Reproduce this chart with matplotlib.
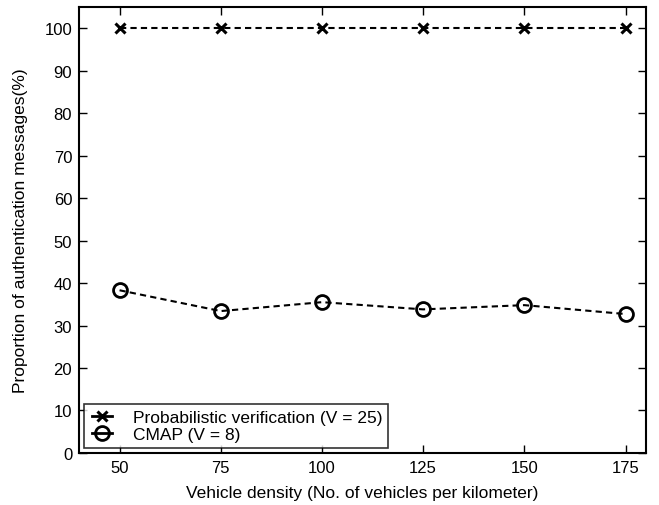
import matplotlib
matplotlib.use("Agg")
import matplotlib.pyplot as plt
from matplotlib.legend_handler import HandlerLine2D
from matplotlib.lines import Line2D
import numpy as np

plt.rcParams['font.family'] = ['Liberation Sans', 'DejaVu Sans']

density = [50, 75, 100, 125, 150, 175]
prob_verif = [100, 100, 100, 100, 100, 100]
cmap_vals = [38.3, 33.4, 35.5, 33.8, 34.8, 32.7]
yticks = list(range(0, 101, 10))
labels = ['Probabilistic verification (V = 25)', 'CMAP (V = 8)']


class RightMarkerHandler(HandlerLine2D):
    def get_xdata(self, legend, xdescent, ydescent, width, height, fontsize):
        xdata = np.array([-xdescent + 0.1 * width, -xdescent + 0.8 * width])
        xmark = np.array([-xdescent + 0.8 * width])
        return xdata, xmark


fig = plt.figure(figsize=(6.59, 5.06), dpi=100)
ax = fig.add_axes([0.12, 0.103, 0.860, 0.881])

ax.plot(density, prob_verif, linestyle='--', color='black', linewidth=1.5,
        marker='x', markersize=7, markeredgewidth=2.2, dashes=(3, 2))
ax.plot(density, cmap_vals, linestyle='--', color='black', linewidth=1.5,
        marker='o', markersize=10, markerfacecolor='none', markeredgewidth=2,
        dashes=(3, 2))

ax.set_xlim(40, 180)
ax.set_ylim(0, 105)
ax.set_xticks(density)
ax.set_yticks(yticks)
ax.tick_params(direction='in', top=True, right=True, labelsize=12, length=6,
               width=1, pad=5)
for s in ax.spines.values():
    s.set_linewidth(1.5)

ax.set_xlabel('Vehicle density (No. of vehicles per kilometer)', fontsize=12.5,
              labelpad=7)
ax.set_ylabel('Proportion of authentication messages(%)', fontsize=12.5,
              labelpad=12)

p1 = Line2D([], [], color='black', linewidth=2, marker='x', markersize=7,
            markeredgewidth=2.2)
p2 = Line2D([], [], color='black', linewidth=2, marker='o', markersize=10,
            markerfacecolor='none', markeredgewidth=2)
handler = RightMarkerHandler()
leg = ax.legend(handles=[p1, p2], labels=labels, loc='lower left', fontsize=12.5,
                handlelength=1.6, frameon=True, fancybox=False,
                edgecolor='black', borderaxespad=0.3, labelspacing=0.15,
                borderpad=0.3, handletextpad=0.9,
                handler_map={p1: handler, p2: handler})
leg.get_frame().set_linewidth(1.2)

fig.savefig('out.png', dpi=100)
